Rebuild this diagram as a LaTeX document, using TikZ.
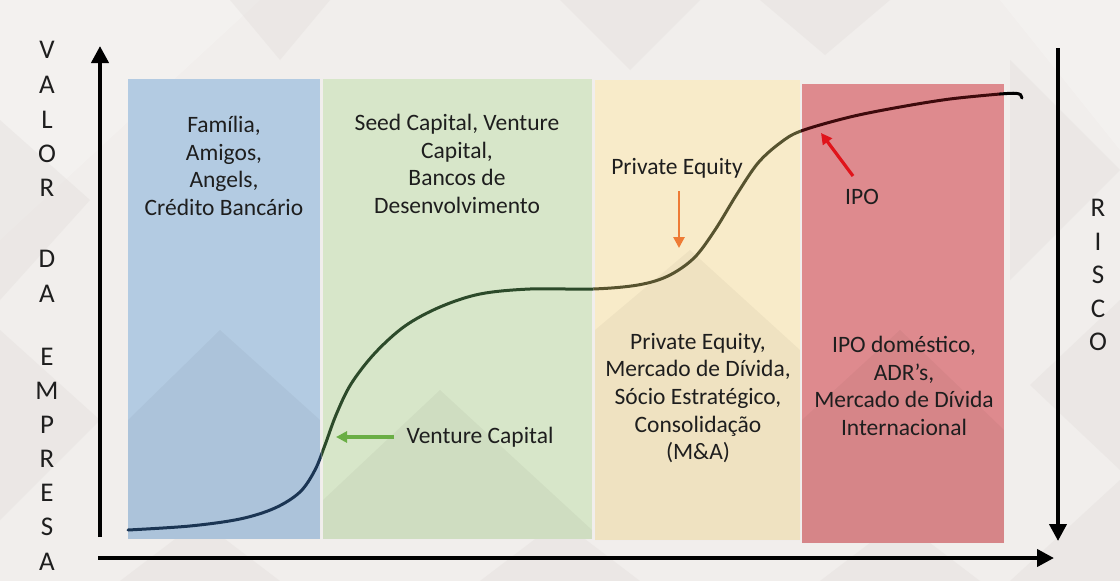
\documentclass[tikz,border=0pt]{standalone}
\usepackage{fontspec}
\setmainfont{Carlito}
\usetikzlibrary{arrows.meta}

\definecolor{bgbase}{HTML}{F1EEEC}
\definecolor{facetdark}{HTML}{DCD7D4}
\definecolor{facetlight}{HTML}{FBFAF9}
\definecolor{panelblue}{HTML}{B3CBE2}
\definecolor{panelgreen}{HTML}{D7E6C9}
\definecolor{panelyellow}{HTML}{F8EBC9}
\definecolor{panelred}{HTML}{DE8A8E}
\definecolor{curveblue}{HTML}{1B3553}
\definecolor{curvegreen}{HTML}{2C4A2A}
\definecolor{curveolive}{HTML}{57532F}
\definecolor{curvered}{HTML}{3E0A0C}
\definecolor{txt}{HTML}{1E1E1E}
\definecolor{orangearrow}{HTML}{EE7B35}
\definecolor{greenarrow}{HTML}{6AAE45}
\definecolor{redarrow}{HTML}{E0141B}

\tikzset{
  axis/.style={line width=4pt, -{Triangle[length=17pt,width=17pt]}},
  curve/.style={line width=3pt, line cap=round},
  paneltext/.style={font=\fontsize{23.5}{27.6}\selectfont, text=txt, align=center, inner sep=0pt},
  axisletter/.style={font=\fontsize{27}{27}\selectfont, text=txt, inner sep=0pt},
  label/.style={font=\fontsize{23.5}{26}\selectfont, text=txt, inner sep=0pt},
  callout/.style={line width=3.2pt, -{Triangle[length=11pt,width=11pt]}},
}

\begin{document}
\begin{tikzpicture}[x=1pt,y=-1pt]
\useasboundingbox (0,0) rectangle (1120,581);

% background with faint facets
\fill[bgbase] (0,0) rectangle (1120,581);
\begin{scope}[opacity=0.28]
  \fill[facetlight] (0,0) -- (260,0) -- (0,240) -- cycle;
  \fill[facetdark] (0,120) -- (90,200) -- (0,300) -- cycle;
  \fill[facetdark] (0,330) -- (100,420) -- (0,520) -- cycle;
  \fill[facetdark] (230,0) -- (330,0) -- (280,60) -- cycle;
  \fill[facetdark] (560,0) -- (700,0) -- (630,70) -- cycle;
  \fill[facetdark] (760,0) -- (890,0) -- (825,55) -- cycle;
  \fill[facetlight] (1000,0) -- (1120,0) -- (1120,150) -- cycle;
  \fill[facetdark] (1010,60) -- (1120,170) -- (1010,280) -- cycle;
  \fill[facetdark] (1120,300) -- (1120,470) -- (1030,385) -- cycle;
  \fill[facetdark] (1120,480) -- (1120,581) -- (1010,581) -- cycle;
  \fill[facetdark] (120,581) -- (200,520) -- (280,581) -- cycle;
  \fill[facetdark] (480,581) -- (560,520) -- (640,581) -- cycle;
  \fill[facetdark] (820,581) -- (900,520) -- (980,581) -- cycle;
\end{scope}

% stage panels
\fill[panelblue]   (128,79) rectangle (320,539);
\fill[panelgreen]  (323,79) rectangle (592,539);
\fill[panelyellow] (595,80) rectangle (800,540);
\fill[panelred]    (802,84) rectangle (1004,543);

% soft diagonal facets across the panels
\begin{scope}[opacity=0.035]
  \fill[black] (128,539) -- (128,420) -- (220,330) -- (320,420) -- (320,539) -- cycle;
  \fill[black] (323,539) -- (323,500) -- (440,390) -- (592,530) -- (592,539) -- cycle;
  \fill[black] (595,540) -- (595,330) -- (690,250) -- (800,350) -- (800,540) -- cycle;
  \fill[black] (802,543) -- (802,420) -- (900,330) -- (1004,430) -- (1004,543) -- cycle;
\end{scope}

% axes
\coordinate (ybottom) at (100,537);
\coordinate (ytop)    at (100,46);
\coordinate (xleft)   at (98,558);
\coordinate (xright)  at (1054,558);
\coordinate (rtop)    at (1058,48);
\coordinate (rbottom) at (1058,541);
\draw[axis] (ybottom) -- (ytop);
\draw[axis] (xleft) -- (xright);
\draw[axis] (rtop) -- (rbottom);

% axis captions, one letter per line
\foreach \ltr/\yy [count=\i] in {V/50,A/85,L/120,O/154,R/188,D/259,A/294,E/357,M/391,P/425,R/459,E/493,S/527,A/562}
  \node[axisletter] (valor\i) at (47,\yy) {\ltr};
\foreach \ltr/\yy [count=\i] in {R/208,I/242,S/275,C/309,O/342}
  \node[axisletter] (risco\i) at (1098,\yy) {\ltr};

% growth curve, coloured by stage
\foreach \xa/\xb/\col in {0/321.5/curveblue, 321.5/593.5/curvegreen, 593.5/801/curveolive, 801/1120/curvered}{
  \begin{scope}
    \clip (\xa,0) rectangle (\xb,581);
    \draw[curve, draw=\col] plot[smooth, tension=0.55] coordinates {
      (128,530) (190,526) (240,519) (275,508) (300,492) (315,470) (325,445)
      (336,415) (351,384) (375,353) (405,326) (440,307) (480,294) (530,289)
      (593,289) (638,285) (668,276) (694,258) (715,230) (737,194) (758,163)
      (780,143) (801,131) (850,117) (900,107) (950,99) (1000,94)};
  \end{scope}
}
\draw[curve, black] (1000,94) .. controls (1014,93) and (1022,92) .. (1022,98);

% stage texts
\node[paneltext] (familia) at (224,166) {Família,\\Amigos,\\Angels,\\Crédito Bancário};
\node[paneltext] (seed) at (457,164) {Seed Capital, Venture\\Capital,\\Bancos de\\Desenvolvimento};
\node[paneltext] (pe) at (698,398) {Private Equity,\\Mercado de Dívida,\\Sócio Estratégico,\\Consolidação\\(M\&A)};
\node[paneltext] (ipo) at (904,386) {IPO doméstico,\\ADR’s,\\Mercado de Dívida\\Internacional};

% callouts on the curve
\node[label] (vclabel) at (480,437) {Venture Capital};
\coordinate (vctail) at (394,437);
\coordinate (vctip)  at (336,437);
\draw[callout, greenarrow, line width=4pt] (vctail) -- (vctip);

\node[label] (pelabel) at (677,168) {Private Equity};
\coordinate (petail) at (679,191);
\coordinate (petip)  at (679,248);
\draw[callout, orangearrow, line width=2.6pt] (petail) -- (petip);

\node[label] (ipolabel) at (862,197) {IPO};
\coordinate (ipotail) at (853,176);
\coordinate (ipotip)  at (821,133);
\draw[callout, redarrow] (ipotail) -- (ipotip);

\end{tikzpicture}
\end{document}
